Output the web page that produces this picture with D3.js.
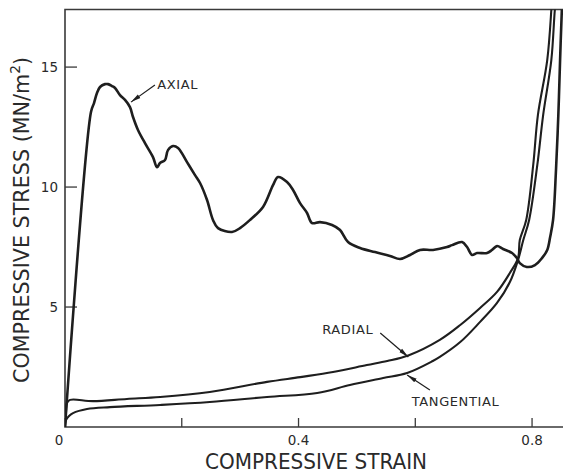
<!DOCTYPE html>
<html lang="en">
<head>
<meta charset="UTF-8">
<title>Compressive stress vs strain</title>
<script src="https://d3js.org/d3.v7.min.js"></script>
<style>
  body { margin: 0; background: #fff; }
  text { font-family: "DejaVu Sans", sans-serif; fill: #2a2a2a; }
  .curve { fill: none; stroke: #1e1e1e; stroke-linejoin: round; stroke-linecap: round; }
  .frame { stroke: #3a3a3a; stroke-width: 1.6; fill: none; }
</style>
</head>
<body>
<script>
// strain / stress pairs
var axialStrain = [0, 0.0445, 0.0497, 0.0548, 0.060, 0.0685, 0.0737, 0.0805, 0.0857, 0.0942, 0.1028, 0.1113, 0.1165, 0.125, 0.137, 0.1507, 0.1576, 0.1627, 0.1713, 0.1764, 0.185, 0.1936, 0.209, 0.2227, 0.2313, 0.2433, 0.2535, 0.2621, 0.2861, 0.2998, 0.3169, 0.3392, 0.3563, 0.3649, 0.3803, 0.3906, 0.4026, 0.4146, 0.4231, 0.4368, 0.4574, 0.4711, 0.4848, 0.5054, 0.531, 0.5567, 0.5739, 0.591, 0.6081, 0.6304, 0.6544, 0.663, 0.6801, 0.6887, 0.6972, 0.7058, 0.7229, 0.7315, 0.74, 0.7503, 0.7657, 0.774, 0.779, 0.791, 0.805, 0.817, 0.826, 0.831, 0.836, 0.841, 0.845, 0.848, 0.851, 0.852];
var axialStress = [0, 13.13, 13.5, 13.92, 14.17, 14.29, 14.29, 14.21, 14.13, 13.83, 13.63, 13.33, 12.92, 12.38, 11.83, 11.25, 10.83, 11.0, 11.13, 11.54, 11.71, 11.63, 11.04, 10.5, 10.17, 9.46, 8.63, 8.29, 8.13, 8.29, 8.63, 9.17, 10.08, 10.42, 10.21, 9.88, 9.33, 8.92, 8.5, 8.54, 8.42, 8.21, 7.71, 7.46, 7.29, 7.13, 7.0, 7.17, 7.38, 7.38, 7.5, 7.58, 7.71, 7.5, 7.17, 7.25, 7.25, 7.38, 7.54, 7.42, 7.25, 7.04, 6.83, 6.67, 6.75, 7.04, 7.38, 7.92, 8.63, 10.71, 13.0, 15.29, 17.38, 17.79];

var radialStrain = [0, 0.0017, 0.0034, 0.0086, 0.048, 0.106, 0.163, 0.248, 0.346, 0.403, 0.459, 0.517, 0.552, 0.588, 0.642, 0.677, 0.711, 0.740, 0.762, 0.776, 0.779, 0.790, 0.802, 0.810, 0.826, 0.833, 0.834];
var radialStress = [0, 0.63, 1.0, 1.13, 1.08, 1.17, 1.25, 1.46, 1.88, 2.08, 2.29, 2.58, 2.75, 2.98, 3.63, 4.25, 4.96, 5.63, 6.42, 7.04, 7.79, 8.63, 10.92, 13.0, 15.29, 17.38, 17.79];

var tangStrain = [0, 0.0017, 0.0069, 0.0137, 0.0377, 0.077, 0.163, 0.248, 0.346, 0.432, 0.488, 0.545, 0.586, 0.630, 0.642, 0.677, 0.711, 0.740, 0.762, 0.776, 0.785, 0.795, 0.809, 0.819, 0.833, 0.839, 0.841];
var tangStress = [0, 0.29, 0.46, 0.58, 0.75, 0.83, 0.92, 1.04, 1.25, 1.42, 1.75, 2.04, 2.25, 2.75, 2.92, 3.54, 4.38, 5.17, 6.04, 6.96, 7.79, 8.63, 10.92, 13.0, 15.29, 17.38, 17.79];

var xTicks = [0, 0.2, 0.4, 0.6, 0.8];
var xTickLabels = ["0", "", "0.4", "", "0.8"];
var yTicks = [5, 10, 15];
var yTickLabels = ["5", "10", "15"];

// curve labels: text anchor point, arrow tail, arrow tip (data units)
var labelNames = ["AXIAL", "RADIAL", "TANGENTIAL"];
var labelAt = [[0.158, 14.29], [0.528, 4.1], [0.594, 1.1]];
var arrowFrom = [[0.154, 14.25], [0.540, 3.92], [0.625, 1.54]];
var arrowTo = [[0.113, 13.54], [0.588, 2.92], [0.586, 2.17]];

var W = 563, H = 474;
var margin = {top: 9.5, right: 0, bottom: 47, left: 65};
var width = W - margin.left - margin.right,
    height = H - margin.top - margin.bottom;

var x = d3.scaleLinear().domain([0, 0.853]).range([0, width]);
var y = d3.scaleLinear().domain([0, 17.4]).range([height, 0]);

var svg = d3.select("body").append("svg")
    .attr("width", W).attr("height", H);

var defs = svg.append("defs");
defs.append("clipPath").attr("id", "plot")
  .append("rect").attr("x", 0).attr("y", 0).attr("width", width).attr("height", height);
defs.append("marker").attr("id", "head")
    .attr("viewBox", "0 0 10 6").attr("refX", 10).attr("refY", 3)
    .attr("markerWidth", 10).attr("markerHeight", 6)
    .attr("markerUnits", "userSpaceOnUse").attr("orient", "auto")
  .append("path").attr("d", "M0,0.8 L10,3 L0,5.2 Z").attr("fill", "#1e1e1e");

var g = svg.append("g").attr("transform", "translate(" + margin.left + "," + margin.top + ")");

// frame: left axis, bottom axis, top border
g.append("path").attr("class", "frame")
  .attr("d", "M" + width + ",0 H0 V" + height + " H" + width);

// x ticks point up into the plot
g.selectAll(".xtick").data(xTicks).enter().append("line")
    .attr("x1", d => x(d)).attr("x2", d => x(d))
    .attr("y1", height).attr("y2", height - 9)
    .attr("stroke", "#3a3a3a").attr("stroke-width", 1.3);
g.selectAll(".xlab").data(xTicks).enter().append("text")
    .attr("x", (d, i) => x(d) + (i === 0 ? -6 : 0))
    .attr("y", height + 18)
    .attr("text-anchor", "middle")
    .attr("font-size", 13.5)
    .text((d, i) => xTickLabels[i]);

// y ticks point right into the plot
g.selectAll(".ytick").data(yTicks).enter().append("line")
    .attr("x1", 0).attr("x2", 12)
    .attr("y1", d => y(d)).attr("y2", d => y(d))
    .attr("stroke", "#3a3a3a").attr("stroke-width", 1.3);
g.selectAll(".ylab").data(yTicks).enter().append("text")
    .attr("x", -7).attr("y", d => y(d) + 5)
    .attr("text-anchor", "end")
    .attr("font-size", 13.5)
    .text((d, i) => yTickLabels[i]);

// axis titles (the original lettering is a narrow face, so squeeze to width)
svg.append("text")
    .attr("x", 205).attr("y", 469)
    .attr("font-size", 22)
    .attr("textLength", 222).attr("lengthAdjust", "spacingAndGlyphs")
    .text("COMPRESSIVE STRAIN");

var yt = svg.append("text")
    .attr("transform", "translate(29,383) rotate(-90)")
    .attr("font-size", 21)
    .attr("textLength", 326).attr("lengthAdjust", "spacingAndGlyphs");
yt.append("tspan").text("COMPRESSIVE STRESS  (MN/m");
yt.append("tspan").attr("font-size", 14).attr("dy", -9).text("2");
yt.append("tspan").attr("dy", 9).text(")");

// curves
var line = d3.line()
    .x(d => x(d[0])).y(d => y(d[1]))
    .curve(d3.curveCatmullRom.alpha(0.5));

function pairs(a, b) { return a.map((v, i) => [v, b[i]]); }

var plot = g.append("g").attr("clip-path", "url(#plot)");
plot.append("path").attr("class", "curve").attr("stroke-width", 2.6)
    .attr("d", line(pairs(axialStrain, axialStress)));
plot.append("path").attr("class", "curve").attr("stroke-width", 2.1)
    .attr("d", line(pairs(radialStrain, radialStress)));
plot.append("path").attr("class", "curve").attr("stroke-width", 2.1)
    .attr("d", line(pairs(tangStrain, tangStress)));

// curve labels with arrows
labelNames.forEach(function(name, i) {
  g.append("line")
    .attr("x1", x(arrowFrom[i][0])).attr("y1", y(arrowFrom[i][1]))
    .attr("x2", x(arrowTo[i][0])).attr("y2", y(arrowTo[i][1]))
    .attr("stroke", "#1e1e1e").attr("stroke-width", 1.2)
    .attr("marker-end", "url(#head)");
  g.append("text")
    .attr("x", x(labelAt[i][0])).attr("y", y(labelAt[i][1]) + 5)
    .attr("text-anchor", i === 1 ? "end" : "start")
    .attr("font-size", 13)
    .attr("letter-spacing", 0.6)
    .text(name);
});
</script>
</body>
</html>
